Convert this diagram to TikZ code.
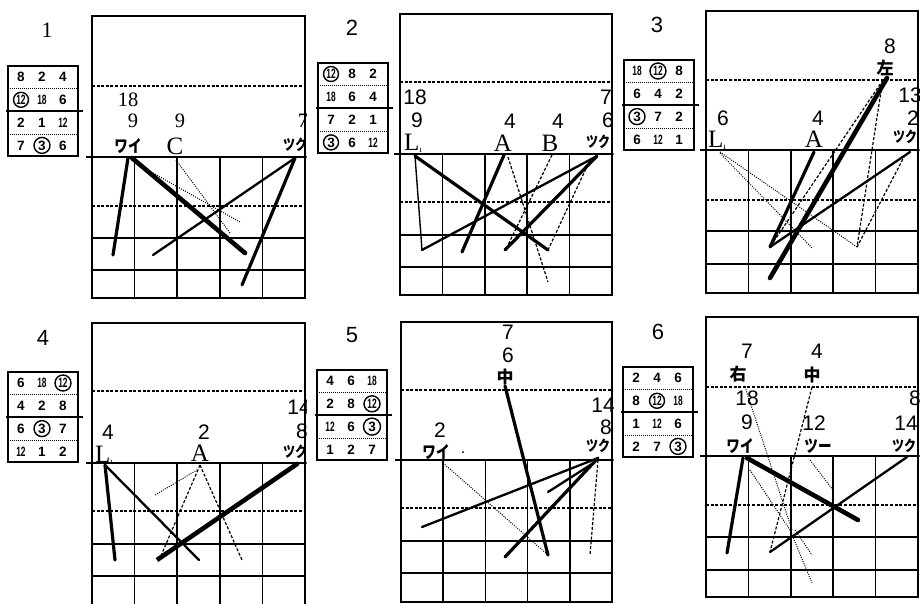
\documentclass[tikz,border=0pt]{standalone}
\usepackage{fontspec}
\setmainfont{Liberation Serif}
\newfontfamily\sanf{Liberation Sans}
\newfontfamily\tabfont{Liberation Sans}
\newfontfamily\jp{Noto Sans CJK JP}
\newfontfamily\jpn[FakeStretch=0.8]{Noto Sans CJK JP}
\newcommand{\nn}[1]{\scalebox{0.62}[1]{#1}}
% panel grid: L R T D H D2 r1 r2 B
\newcommand{\mkpanel}[9]{%
  \draw[frm] (#1,#3) rectangle (#2,#9);
  \draw[hdash] (#1,#4) -- (#2,#4);
  \draw[hdash] (#1,#6) -- (#2,#6);
  \draw[frm] (#1,#7) -- (#2,#7);
  \draw[frm] (#1,#8) -- (#2,#8);
  \foreach \k in {1,2,3,4} \draw[frm] ({#1+\k*(#2-#1)/5},#5) -- ({#1+\k*(#2-#1)/5},#9);
  \draw[baseln] (#1-6,#5) -- (#2+3,#5);
}
\newcommand{\tabgrid}{%
  \draw[tb] (0,0) rectangle (70,90);
  \draw[tbdot] (0,22.5) -- (70,22.5);
  \draw[tbdot] (0,68) -- (70,68);
  \draw[tbthick] (-2,45) -- (75,45);
}
\newcommand{\tabrow}[5]{%
  \pgfmathsetmacro\tabry{11+(#2-1)*22.8}%
  \node[tnum] (#1r#2a) at (13,\tabry) {#3};
  \node[tnum] (#1r#2b) at (34,\tabry) {#4};
  \node[tnum] (#1r#2c) at (55,\tabry) {#5};
}
\begin{document}
\begin{tikzpicture}[x=1pt,y=-1pt,
  frm/.style={line width=1.6pt},
  baseln/.style={line width=2.8pt},
  hdash/.style={line width=1.1pt, dash pattern=on 3pt off 1.6pt},
  vthick/.style={line width=4.6pt, line cap=round},
  thk/.style={line width=3.2pt, line cap=round},
  med/.style={line width=2.3pt, line cap=round},
  thn/.style={line width=1.4pt},
  dotl/.style={line width=1pt, dash pattern=on 1pt off 1.3pt},
  dashl/.style={line width=1.2pt, dash pattern=on 3pt off 1.8pt},
  tb/.style={line width=1.3pt},
  tbdot/.style={line width=0.8pt, dash pattern=on 1pt off 1pt},
  tbthick/.style={line width=2.6pt},
  tnum/.style={font=\tabfont\bfseries\fontsize{13.5}{13.5}\selectfont, inner sep=0pt},
  tcirc/.style={line width=1.4pt},
  lnum/.style={font=\sanf\fontsize{21}{21}\selectfont, inner sep=0pt},
  lnumr/.style={font=\fontsize{20.5}{20.5}\selectfont, inner sep=0pt},
  llet/.style={font=\fontsize{25}{25}\selectfont, inner sep=0pt},
  ljp/.style={font=\jpn\bfseries\fontsize{17}{17}\selectfont, inner sep=0pt},
  ljpk/.style={font=\jpn\bfseries\fontsize{15}{15}\selectfont, inner sep=0pt},
  lkan/.style={font=\jp\bfseries\fontsize{17}{17}\selectfont, inner sep=0pt},
  ptitle/.style={font=\sanf\fontsize{22}{22}\selectfont, inner sep=0pt}
]
\useasboundingbox (0,0) rectangle (920,603);
\fill[white] (0,0) rectangle (920,603);

% ---------------- tables ----------------
\begin{scope}[shift={(8,66)}]
  \tabgrid
  \tabrow{Ta}{1}{8}{2}{4}
  \tabrow{Ta}{2}{\nn{12}}{\nn{18}}{6}
  \tabrow{Ta}{3}{2}{1}{\nn{12}}
  \tabrow{Ta}{4}{7}{3}{6}
  \draw[tcirc] (Tar2a.center) circle[radius=7.5pt];
  \draw[tcirc] (Tar4b.center) circle[radius=8pt];
\end{scope}
\begin{scope}[shift={(318,63)}]
  \tabgrid
  \tabrow{Tb}{1}{\nn{12}}{8}{2}
  \tabrow{Tb}{2}{\nn{18}}{6}{4}
  \tabrow{Tb}{3}{7}{2}{1}
  \tabrow{Tb}{4}{3}{6}{\nn{12}}
  \draw[tcirc] (Tbr1a.center) circle[radius=7.5pt];
  \draw[tcirc] (Tbr4a.center) circle[radius=7.5pt];
\end{scope}
\begin{scope}[shift={(624,60)}]
  \tabgrid
  \tabrow{Tc}{1}{\nn{18}}{\nn{12}}{8}
  \tabrow{Tc}{2}{6}{4}{2}
  \tabrow{Tc}{3}{3}{7}{2}
  \tabrow{Tc}{4}{6}{\nn{12}}{1}
  \draw[tcirc] (Tcr1b.center) circle[radius=8pt];
  \draw[tcirc] (Tcr3a.center) circle[radius=8pt];
\end{scope}
\begin{scope}[shift={(8,372)}]
  \tabgrid
  \tabrow{Td}{1}{6}{\nn{18}}{\nn{12}}
  \tabrow{Td}{2}{4}{2}{8}
  \tabrow{Td}{3}{6}{3}{7}
  \tabrow{Td}{4}{\nn{12}}{1}{2}
  \draw[tcirc] (Tdr1c.center) circle[radius=8pt];
  \draw[tcirc] (Tdr3b.center) circle[radius=8pt];
\end{scope}
\begin{scope}[shift={(317,370)}]
  \tabgrid
  \tabrow{Te}{1}{4}{6}{\nn{18}}
  \tabrow{Te}{2}{2}{8}{\nn{12}}
  \tabrow{Te}{3}{\nn{12}}{6}{3}
  \tabrow{Te}{4}{1}{2}{7}
  \draw[tcirc] (Ter2c.center) circle[radius=8pt];
  \draw[tcirc] (Ter3c.center) circle[radius=8.5pt];
\end{scope}
\begin{scope}[shift={(623,367)}]
  \tabgrid
  \tabrow{Tf}{1}{2}{4}{6}
  \tabrow{Tf}{2}{8}{\nn{12}}{\nn{18}}
  \tabrow{Tf}{3}{1}{\nn{12}}{6}
  \tabrow{Tf}{4}{2}{7}{3}
  \draw[tcirc] (Tfr2b.center) circle[radius=7.5pt];
  \draw[tcirc] (Tfr4c.center) circle[radius=8pt];
\end{scope}

% ---------------- panel titles ----------------
\node[font=\fontsize{22}{22}\selectfont, inner sep=0pt] (t1) at (47,30) {1};
\node[ptitle] (t2) at (352,28) {2};
\node[ptitle] (t3) at (657,25) {3};
\node[ptitle] (t4) at (43,338) {4};
\node[ptitle] (t5) at (352,335) {5};
\node[ptitle] (t6) at (658,332) {6};

% ---------------- panel 1 ----------------
\begin{scope}
  \clip (80,0) rectangle (306.5,300);
  \mkpanel{92}{305}{16}{86}{157}{206}{238}{270}{298}
  \node[lnumr] (a18) at (128,100) {18};
  \node[lnumr] (a9a) at (133,121) {9};
  \node[lnumr] (a9b) at (180,121) {9};
  \node[lnumr] (a7) at (303,121) {7};
  \node[ljp] (aW) at (128,146) {ワイ};
  \node[llet] (aC) at (175,146) {C};
  \node[ljpk] (aT) at (295,145) {ツク};
  \draw[vthick] (132,158) -- (245,253);
  \draw[thk] (128,158) -- (113,255);
  \draw[med] (295,158) -- (153,255);
  \draw[thk] (295,158) -- (242,285);
  \draw[dotl] (176,160) -- (230,233);
  \draw[dotl] (153,173) -- (240,222);
\end{scope}

% ---------------- panel 2 ----------------
\begin{scope}
  \clip (388,0) rectangle (613.5,300);
  \mkpanel{400}{612}{14}{82}{154}{202}{235}{267}{295}
  \node[lnum] (b18) at (415,97) {18};
  \node[lnum] (b9) at (417,120) {9};
  \node[lnum] (b4a) at (510,121) {4};
  \node[lnum] (b4b) at (558,121) {4};
  \node[lnum] (b7) at (606,97) {7};
  \node[lnum] (b6) at (608,120) {6};
  \node[llet] (bL) at (413,143) {L\raisebox{-2pt}{\fontsize{9}{9}\selectfont ı}};
  \node[llet] (bA) at (503,143) {A};
  \node[llet] (bB) at (550,143) {B};
  \node[ljpk] (bT) at (598,142) {ツク};
  \draw[thn] (415,156) -- (422,250);
  \draw[med] (422,250) -- (597,156);
  \draw[thk] (415,156) -- (548,250);
  \draw[dashl] (548,250) -- (590,160);
  \draw[thk] (504,155) -- (462,252);
  \draw[dashl] (508,157) -- (548,282);
  \draw[thk] (597,156) -- (505,250);
  \draw[dashl] (552,155) -- (508,245);
\end{scope}

% ---------------- panel 3 ----------------
\begin{scope}
  \clip (694,0) rectangle (919.5,300);
  \mkpanel{706}{918}{11}{80}{150}{200}{231}{264}{293}
  \node[lnum] (c6) at (723,118) {6};
  \node[llet] (cL) at (717,140) {L\raisebox{-2pt}{\fontsize{9}{9}\selectfont ı}};
  \node[lnum] (c4) at (818,118) {4};
  \node[llet] (cA) at (814,139) {A};
  \node[lnum] (c8) at (890,46) {8};
  \node[lkan] (cH) at (885,68) {左};
  \node[lnum] (c13) at (910,95) {13};
  \node[lnum] (c2) at (913,118) {2};
  \node[ljpk] (cT) at (905,137) {ツク};
  \draw[vthick] (887,78) -- (770,278);
  \draw[thk] (814,152) -- (770,247);
  \draw[med] (770,247) -- (910,152);
  \draw[dashl] (883,80) -- (770,247);
  \draw[dashl] (882,85) -- (857,247);
  \draw[dashl] (857,247) -- (905,155);
  \draw[dotl] (720,152) -- (857,247);
  \draw[dotl] (720,153) -- (812,248);
\end{scope}

% ---------------- panel 4 ----------------
\begin{scope}
  \clip (80,305) rectangle (306.5,603);
  \mkpanel{92}{305}{323}{391}{463}{511}{544}{576}{612}
  \node[lnum] (d4) at (108,432) {4};
  \node[llet] (dL) at (104,455) {L\raisebox{-2pt}{\fontsize{9}{9}\selectfont ı}};
  \node[lnum] (d2) at (204,432) {2};
  \node[llet] (dA) at (200,453) {A};
  \node[lnum] (d14) at (299,407) {14};
  \node[lnum] (d8) at (302,431) {8};
  \node[ljpk] (dT) at (295,452) {ツク};
  \draw[thk] (105,465) -- (115,560);
  \draw[med] (105,465) -- (199,560);
  \draw[vthick] (297,464) -- (157,560) -- (167,553);
  \draw[dashl] (200,465) -- (160,558);
  \draw[dotl] (155,495) -- (197,470);
  \draw[dashl] (200,465) -- (242,560);
\end{scope}

% ---------------- panel 5 ----------------
\begin{scope}
  \clip (388,305) rectangle (613.5,603);
  \mkpanel{401}{612}{322}{390}{460}{508}{541}{573}{602}
  \node[lnum] (e7) at (508,332) {7};
  \node[lnum] (e6) at (508,355) {6};
  \node[lkan] (eM) at (505,377) {中};
  \node[lnum] (e2) at (440,430) {2};
  \node[ljp] (eW) at (436,452) {ワイ};
  \fill (463,452) circle[radius=1pt];
  \node[lnum] (e14) at (603,405) {14};
  \node[lnum] (e8) at (606,427) {8};
  \node[ljpk] (eT) at (598,446) {ツク};
  \draw[thk] (505,386) -- (548,555);
  \draw[med] (422,527) -- (598,458);
  \draw[thk] (598,458) -- (505,557);
  \draw[med] (548,492) -- (595,462);
  \draw[dotl] (443,463) -- (548,555);
  \draw[dashl] (598,460) -- (590,555);
\end{scope}

% ---------------- panel 6 ----------------
\begin{scope}
  \clip (694,305) rectangle (919.5,603);
  \mkpanel{706}{918}{317}{387}{456}{505}{537}{570}{597}
  \node[lnum] (f7) at (747,351) {7};
  \node[lkan] (fR) at (738,374) {右};
  \node[lnum] (f18) at (747,398) {18};
  \node[lnum] (f9) at (747,422) {9};
  \node[ljp] (fW) at (740,446) {ワイ};
  \node[lnum] (f4) at (817,351) {4};
  \node[lkan] (fM) at (812,375) {中};
  \node[lnum] (f12) at (814,423) {12};
  \node[ljp] (fS) at (818,446) {ツー};
  \node[lnum] (f8) at (915,398) {8};
  \node[lnum] (f14) at (906,423) {14};
  \node[ljpk] (fT) at (904,446) {ツク};
  \draw[vthick] (747,458) -- (858,520);
  \draw[thk] (743,458) -- (727,553);
  \draw[med] (770,552) -- (907,457);
  \draw[dashl] (812,387) -- (770,552);
  \draw[dotl] (745,387) -- (792,530);
  \draw[dotl] (750,470) -- (790,530) -- (812,583);
  \draw[dotl] (810,460) -- (833,490);
  \draw[dotl] (795,530) -- (812,555);
\end{scope}
\end{tikzpicture}
\end{document}
